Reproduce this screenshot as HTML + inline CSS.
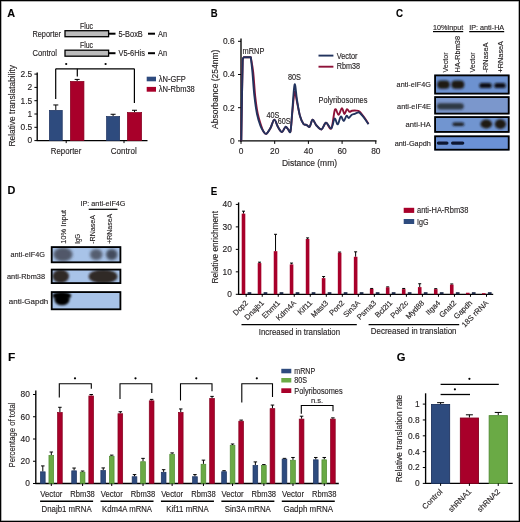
<!DOCTYPE html>
<html><head><meta charset="utf-8"><style>
html,body{margin:0;padding:0;background:#fff;}
#fig{position:relative;width:520px;height:522px;overflow:hidden;background:#fff;}
#fig svg.main{position:absolute;left:0;top:0;will-change:transform;}
#frame{position:absolute;left:0;top:0;width:518px;height:520px;border:1px solid #000;box-shadow:inset 0 0 0 0.5px rgba(0,0,0,0.6);}
text{font-family:"Liberation Sans", sans-serif;stroke:#231f20;stroke-width:0.14px;}
</style></head><body><div id="fig">
<svg class="main" width="520" height="522" viewBox="0 0 520 522" fill="#231f20" font-family='"Liberation Sans", sans-serif'>
<text x="7.34" y="16.99" font-size="11.6" textLength="7.84" lengthAdjust="spacingAndGlyphs" font-weight="bold" fill="#000">A</text>
<text x="210.77" y="16.97" font-size="11.6" textLength="6.85" lengthAdjust="spacingAndGlyphs" font-weight="bold" fill="#000">B</text>
<text x="396.00" y="16.99" font-size="11.6" textLength="7.07" lengthAdjust="spacingAndGlyphs" font-weight="bold" fill="#000">C</text>
<text x="7.48" y="194.44" font-size="11.6" textLength="7.87" lengthAdjust="spacingAndGlyphs" font-weight="bold" fill="#000">D</text>
<text x="210.75" y="194.64" font-size="11.6" textLength="6.53" lengthAdjust="spacingAndGlyphs" font-weight="bold" fill="#000">E</text>
<text x="8.01" y="361.44" font-size="11.6" textLength="7.32" lengthAdjust="spacingAndGlyphs" font-weight="bold" fill="#000">F</text>
<text x="396.74" y="361.44" font-size="11.6" textLength="8.76" lengthAdjust="spacingAndGlyphs" font-weight="bold" fill="#000">G</text>
<text x="32.50" y="36.82" font-size="8.2" textLength="28.50" lengthAdjust="spacingAndGlyphs">Reporter</text>
<text x="32.50" y="55.82" font-size="8.2" textLength="24.50" lengthAdjust="spacingAndGlyphs">Control</text>
<text x="80.00" y="29.02" font-size="8.2" textLength="13.00" lengthAdjust="spacingAndGlyphs">Fluc</text>
<rect x="65.00" y="30.70" width="43.60" height="6.00" fill="#bcbcbc" stroke="#000" stroke-width="1.3"/>
<line x1="108.50" y1="33.70" x2="115.50" y2="33.70" stroke="#000" stroke-width="2.0"/>
<text x="118.50" y="36.52" font-size="8.2" textLength="24.30" lengthAdjust="spacingAndGlyphs">5-BoxB</text>
<line x1="148.00" y1="33.70" x2="155.00" y2="33.70" stroke="#000" stroke-width="2.0"/>
<text x="158.00" y="36.52" font-size="8.2" textLength="9.00" lengthAdjust="spacingAndGlyphs">An</text>
<text x="80.00" y="47.62" font-size="8.2" textLength="13.00" lengthAdjust="spacingAndGlyphs">Fluc</text>
<rect x="65.00" y="50.20" width="43.60" height="6.00" fill="#bcbcbc" stroke="#000" stroke-width="1.3"/>
<line x1="108.50" y1="53.20" x2="115.50" y2="53.20" stroke="#000" stroke-width="2.0"/>
<text x="118.50" y="56.02" font-size="8.2" textLength="26.50" lengthAdjust="spacingAndGlyphs">V5-6His</text>
<line x1="148.00" y1="53.20" x2="155.00" y2="53.20" stroke="#000" stroke-width="2.0"/>
<text x="158.00" y="56.02" font-size="8.2" textLength="9.00" lengthAdjust="spacingAndGlyphs">An</text>
<line x1="37.20" y1="72.60" x2="37.20" y2="141.10" stroke="#000" stroke-width="1.35"/>
<line x1="36.70" y1="140.60" x2="147.50" y2="140.60" stroke="#000" stroke-width="1.35"/>
<line x1="34.40" y1="140.60" x2="37.20" y2="140.60" stroke="#000" stroke-width="1"/>
<text x="32.20" y="143.49" font-size="8.4" text-anchor="end">0</text>
<line x1="34.40" y1="127.30" x2="37.20" y2="127.30" stroke="#000" stroke-width="1"/>
<text x="32.20" y="130.19" font-size="8.4" text-anchor="end">0.5</text>
<line x1="34.40" y1="114.00" x2="37.20" y2="114.00" stroke="#000" stroke-width="1"/>
<text x="32.20" y="116.89" font-size="8.4" text-anchor="end">1</text>
<line x1="34.40" y1="100.70" x2="37.20" y2="100.70" stroke="#000" stroke-width="1"/>
<text x="32.20" y="103.59" font-size="8.4" text-anchor="end">1.5</text>
<line x1="34.40" y1="87.40" x2="37.20" y2="87.40" stroke="#000" stroke-width="1"/>
<text x="32.20" y="90.29" font-size="8.4" text-anchor="end">2</text>
<line x1="34.40" y1="74.10" x2="37.20" y2="74.10" stroke="#000" stroke-width="1"/>
<text x="32.20" y="76.99" font-size="8.4" text-anchor="end">2.5</text>
<line x1="66.20" y1="140.60" x2="66.20" y2="143.10" stroke="#000" stroke-width="1"/>
<line x1="124.00" y1="140.60" x2="124.00" y2="143.10" stroke="#000" stroke-width="1"/>
<line x1="55.80" y1="110.01" x2="55.80" y2="104.96" stroke="#000" stroke-width="1"/>
<line x1="53.30" y1="104.96" x2="58.30" y2="104.96" stroke="#000" stroke-width="1"/>
<rect x="49.35" y="110.36" width="12.90" height="30.24" fill="#2e4b7e" stroke="#1d3360" stroke-width="0.7"/>
<line x1="77.15" y1="81.02" x2="77.15" y2="79.42" stroke="#000" stroke-width="1"/>
<line x1="74.65" y1="79.42" x2="79.65" y2="79.42" stroke="#000" stroke-width="1"/>
<rect x="70.35" y="81.37" width="13.60" height="59.23" fill="#a8002a" stroke="#85001f" stroke-width="0.7"/>
<line x1="113.10" y1="116.13" x2="113.10" y2="114.27" stroke="#000" stroke-width="1"/>
<line x1="110.60" y1="114.27" x2="115.60" y2="114.27" stroke="#000" stroke-width="1"/>
<rect x="106.55" y="116.48" width="13.10" height="24.12" fill="#2e4b7e" stroke="#1d3360" stroke-width="0.7"/>
<line x1="134.50" y1="112.14" x2="134.50" y2="110.28" stroke="#000" stroke-width="1"/>
<line x1="132.00" y1="110.28" x2="137.00" y2="110.28" stroke="#000" stroke-width="1"/>
<rect x="127.35" y="112.49" width="14.30" height="28.11" fill="#a8002a" stroke="#85001f" stroke-width="0.7"/>
<line x1="55.70" y1="68.80" x2="134.40" y2="68.80" stroke="#000" stroke-width="1.2"/>
<line x1="55.70" y1="68.80" x2="55.70" y2="99.00" stroke="#000" stroke-width="1.2"/>
<line x1="77.30" y1="68.80" x2="77.30" y2="76.40" stroke="#000" stroke-width="1.2"/>
<line x1="134.40" y1="68.80" x2="134.40" y2="103.00" stroke="#000" stroke-width="1.2"/>
<circle cx="66.20" cy="64.00" r="1.1" fill="#000"/>
<circle cx="105.60" cy="64.00" r="1.1" fill="#000"/>
<rect x="146.70" y="76.70" width="9.30" height="4.60" fill="#2e4b7e"/>
<rect x="146.70" y="86.90" width="9.30" height="4.80" fill="#a8002a"/>
<text x="158.80" y="81.82" font-size="8.2" textLength="27.00" lengthAdjust="spacingAndGlyphs">λN-GFP</text>
<text x="158.80" y="92.12" font-size="8.2" textLength="36.00" lengthAdjust="spacingAndGlyphs">λN-Rbm38</text>
<text x="50.80" y="154.02" font-size="8.2" textLength="30.50" lengthAdjust="spacingAndGlyphs">Reporter</text>
<text x="110.80" y="154.02" font-size="8.2" textLength="25.90" lengthAdjust="spacingAndGlyphs">Control</text>
<text transform="translate(11.80,105.80) rotate(-90)" x="0" y="2.96" font-size="8.6" text-anchor="middle" textLength="81.50" lengthAdjust="spacingAndGlyphs">Relative translatability</text>
<line x1="241.00" y1="38.50" x2="241.00" y2="141.40" stroke="#000" stroke-width="1.35"/>
<line x1="240.50" y1="140.90" x2="376.50" y2="140.90" stroke="#000" stroke-width="1.35"/>
<line x1="238.00" y1="140.90" x2="241.00" y2="140.90" stroke="#000" stroke-width="1"/>
<text x="234.60" y="143.79" font-size="8.4" text-anchor="end">0</text>
<line x1="238.00" y1="107.70" x2="241.00" y2="107.70" stroke="#000" stroke-width="1"/>
<text x="234.60" y="110.59" font-size="8.4" text-anchor="end">0.2</text>
<line x1="238.00" y1="74.50" x2="241.00" y2="74.50" stroke="#000" stroke-width="1"/>
<text x="234.60" y="77.39" font-size="8.4" text-anchor="end">0.4</text>
<line x1="238.00" y1="41.30" x2="241.00" y2="41.30" stroke="#000" stroke-width="1"/>
<text x="234.60" y="44.19" font-size="8.4" text-anchor="end">0.6</text>
<line x1="241.00" y1="140.90" x2="241.00" y2="143.90" stroke="#000" stroke-width="1"/>
<text x="241.00" y="154.29" font-size="8.4" text-anchor="middle">0</text>
<line x1="274.70" y1="140.90" x2="274.70" y2="143.90" stroke="#000" stroke-width="1"/>
<text x="274.70" y="154.29" font-size="8.4" text-anchor="middle">20</text>
<line x1="308.40" y1="140.90" x2="308.40" y2="143.90" stroke="#000" stroke-width="1"/>
<text x="308.40" y="154.29" font-size="8.4" text-anchor="middle">40</text>
<line x1="342.10" y1="140.90" x2="342.10" y2="143.90" stroke="#000" stroke-width="1"/>
<text x="342.10" y="154.29" font-size="8.4" text-anchor="middle">60</text>
<line x1="375.80" y1="140.90" x2="375.80" y2="143.90" stroke="#000" stroke-width="1"/>
<text x="375.80" y="154.29" font-size="8.4" text-anchor="middle">80</text>
<text x="282.00" y="166.36" font-size="8.3" textLength="55.00" lengthAdjust="spacingAndGlyphs">Distance (mm)</text>
<text transform="translate(215.30,89.30) rotate(-90)" x="0" y="2.96" font-size="8.6" text-anchor="middle" textLength="79.40" lengthAdjust="spacingAndGlyphs">Absorbance (254nm)</text>
<path d="M241.3,140.6 L241.9,100 L242.7,60 Q243.1,57.2 244,57.2 L250,57.2 L250.80,57.20 C251.20,59.67 252.47,65.53 253.20,72.00 C253.93,78.47 254.43,89.00 255.20,96.00 C255.97,103.00 256.78,109.00 257.80,114.00 C258.82,119.00 260.35,123.08 261.30,126.00 C262.25,128.92 262.67,130.20 263.50,131.50 C264.33,132.80 265.13,134.38 266.30,133.80 C267.47,133.22 269.17,130.37 270.50,128.00 C271.83,125.63 273.05,119.77 274.30,119.60 C275.55,119.43 276.72,124.93 278.00,127.00 C279.28,129.07 280.75,132.03 282.00,132.00 C283.25,131.97 284.47,127.22 285.50,126.80 C286.53,126.38 287.37,128.77 288.20,129.50 C289.03,130.23 289.83,133.78 290.50,131.20 C291.17,128.62 291.52,120.53 292.20,114.00 C292.88,107.47 293.80,94.00 294.60,92.00 C295.40,90.00 296.10,98.00 297.00,102.00 C297.90,106.00 298.92,112.33 300.00,116.00 C301.08,119.67 302.42,122.53 303.50,124.00 C304.58,125.47 305.48,124.33 306.50,124.80 C307.52,125.27 308.58,127.63 309.60,126.80 C310.62,125.97 311.45,120.02 312.60,119.80 C313.75,119.58 315.02,123.90 316.50,125.50 C317.98,127.10 319.92,129.85 321.50,129.40 C323.08,128.95 324.37,122.97 326.00,122.80 C327.63,122.63 329.80,130.62 331.30,128.40 C332.80,126.18 333.80,111.77 335.00,109.50 C336.20,107.23 337.35,115.02 338.50,114.80 C339.65,114.58 340.92,108.33 341.90,108.20 C342.88,108.07 343.55,113.83 344.40,114.00 C345.25,114.17 346.15,109.57 347.00,109.20 C347.85,108.83 348.67,111.53 349.50,111.80 C350.33,112.07 350.88,111.00 352.00,110.80 C353.12,110.60 354.97,110.48 356.20,110.60 C357.43,110.72 358.10,110.43 359.40,111.50 C360.70,112.57 362.48,114.95 364.00,117.00 C365.52,119.05 367.75,122.67 368.50,123.80" fill="none" stroke="#8e1238" stroke-width="1.9" stroke-linejoin="round"/>
<path d="M241.3,140.6 L241.9,100 L242.7,60 Q243.1,57.2 244,57.2 L250,57.2 L250.80,57.20 C251.07,59.67 251.80,65.53 252.40,72.00 C253.00,78.47 253.63,89.00 254.40,96.00 C255.17,103.00 255.98,109.00 257.00,114.00 C258.02,119.00 259.42,123.08 260.50,126.00 C261.58,128.92 262.53,130.20 263.50,131.50 C264.47,132.80 265.13,134.38 266.30,133.80 C267.47,133.22 269.17,130.37 270.50,128.00 C271.83,125.63 273.05,119.77 274.30,119.60 C275.55,119.43 276.72,124.93 278.00,127.00 C279.28,129.07 280.75,132.03 282.00,132.00 C283.25,131.97 284.47,127.22 285.50,126.80 C286.53,126.38 287.37,128.77 288.20,129.50 C289.03,130.23 289.83,134.12 290.50,131.20 C291.17,128.28 291.52,119.78 292.20,112.00 C292.88,104.22 293.80,86.50 294.60,84.50 C295.40,82.50 296.10,94.75 297.00,100.00 C297.90,105.25 298.92,112.00 300.00,116.00 C301.08,120.00 302.42,122.53 303.50,124.00 C304.58,125.47 305.48,124.33 306.50,124.80 C307.52,125.27 308.58,127.63 309.60,126.80 C310.62,125.97 311.45,120.02 312.60,119.80 C313.75,119.58 315.02,123.90 316.50,125.50 C317.98,127.10 319.92,129.85 321.50,129.40 C323.08,128.95 324.37,122.97 326.00,122.80 C327.63,122.63 329.87,129.12 331.30,128.40 C332.73,127.68 333.53,119.17 334.60,118.50 C335.67,117.83 336.67,124.73 337.70,124.40 C338.73,124.07 339.78,117.07 340.80,116.50 C341.82,115.93 342.85,121.12 343.80,121.00 C344.75,120.88 345.67,116.30 346.50,115.80 C347.33,115.30 347.97,118.13 348.80,118.00 C349.63,117.87 350.53,115.70 351.50,115.00 C352.47,114.30 353.57,114.18 354.60,113.80 C355.63,113.42 356.90,112.93 357.70,112.70 C358.50,112.47 358.38,111.60 359.40,112.40 C360.42,113.20 362.28,115.53 363.80,117.50 C365.32,119.47 367.72,123.08 368.50,124.20" fill="none" stroke="#22335e" stroke-width="1.9" stroke-linejoin="round"/>
<line x1="318.50" y1="55.60" x2="333.40" y2="55.60" stroke="#22335e" stroke-width="1.9"/>
<line x1="318.50" y1="66.70" x2="333.40" y2="66.70" stroke="#8e1238" stroke-width="1.9"/>
<text x="336.70" y="58.52" font-size="8.2" textLength="20.80" lengthAdjust="spacingAndGlyphs">Vector</text>
<text x="336.70" y="69.42" font-size="8.2" textLength="23.30" lengthAdjust="spacingAndGlyphs">Rbm38</text>
<text x="242.60" y="54.22" font-size="8.2" textLength="21.80" lengthAdjust="spacingAndGlyphs">mRNP</text>
<text x="266.50" y="117.52" font-size="8.2" textLength="13.00" lengthAdjust="spacingAndGlyphs">40S</text>
<text x="277.80" y="123.62" font-size="8.2" textLength="12.90" lengthAdjust="spacingAndGlyphs">60S</text>
<text x="288.00" y="80.02" font-size="8.2" textLength="13.00" lengthAdjust="spacingAndGlyphs">80S</text>
<text x="318.50" y="102.52" font-size="8.2" textLength="49.00" lengthAdjust="spacingAndGlyphs">Polyribosomes</text>
<text x="433.00" y="29.72" font-size="7.9" textLength="30.20" lengthAdjust="spacingAndGlyphs">10%Input</text>
<line x1="433.00" y1="31.60" x2="463.20" y2="31.60" stroke="#000" stroke-width="1.2"/>
<text x="469.20" y="29.72" font-size="7.9" textLength="35.00" lengthAdjust="spacingAndGlyphs">IP: anti-HA</text>
<line x1="469.20" y1="31.60" x2="504.20" y2="31.60" stroke="#000" stroke-width="1.2"/>
<text transform="translate(444.80,72.50) rotate(-90)" x="0" y="2.72" font-size="7.9" text-anchor="start" textLength="20.00" lengthAdjust="spacingAndGlyphs">Vector</text>
<text transform="translate(457.60,72.50) rotate(-90)" x="0" y="2.72" font-size="7.9" text-anchor="start" textLength="36.50" lengthAdjust="spacingAndGlyphs">HA-Rbm38</text>
<text transform="translate(471.80,72.50) rotate(-90)" x="0" y="2.72" font-size="7.9" text-anchor="start" textLength="20.00" lengthAdjust="spacingAndGlyphs">Vector</text>
<text transform="translate(485.60,72.50) rotate(-90)" x="0" y="2.72" font-size="7.9" text-anchor="start" textLength="30.00" lengthAdjust="spacingAndGlyphs">-RNaseA</text>
<text transform="translate(500.60,72.50) rotate(-90)" x="0" y="2.72" font-size="7.9" text-anchor="start" textLength="31.50" lengthAdjust="spacingAndGlyphs">+RNaseA</text>
<defs>
<filter id="blur0" x="-50%" y="-50%" width="200%" height="200%"><feGaussianBlur stdDeviation="0.7"/></filter>
<filter id="blur1" x="-50%" y="-50%" width="200%" height="200%"><feGaussianBlur stdDeviation="1.1"/></filter>
<filter id="blur2" x="-50%" y="-50%" width="200%" height="200%"><feGaussianBlur stdDeviation="1.6"/></filter>
</defs>
<filter id="blurA" x="-50%" y="-50%" width="200%" height="200%"><feGaussianBlur stdDeviation="0.9"/></filter>
<svg x="434.20" y="74.50" width="75.40" height="20.00" overflow="hidden">
<rect x="0" y="0" width="75.40" height="20.00" fill="#6d92d0"/>
<rect x="3.00" y="6.10" width="12.60" height="8.20" rx="4.10" fill="#1c1410" opacity="0.97" filter="url(#blurA)"/>
<rect x="17.10" y="6.10" width="13.00" height="8.20" rx="4.10" fill="#1c1410" opacity="0.97" filter="url(#blurA)"/>
<rect x="45.10" y="8.40" width="12.50" height="5.20" rx="2.60" fill="#0e0e12" opacity="1.0" filter="url(#blurA)"/>
<rect x="60.00" y="8.40" width="11.60" height="5.20" rx="2.60" fill="#0e0e12" opacity="1.0" filter="url(#blurA)"/>
</svg>
<rect x="435.10" y="75.40" width="73.60" height="18.20" fill="none" stroke="#000" stroke-width="1.8"/>
<svg x="434.20" y="96.20" width="75.40" height="18.30" overflow="hidden">
<rect x="0" y="0" width="75.40" height="18.30" fill="#7b97cc"/>
<rect x="2.80" y="7.00" width="26.80" height="6.20" rx="3.10" fill="#1e2220" opacity="0.8" filter="url(#blur1)"/>
</svg>
<rect x="435.10" y="97.10" width="73.60" height="16.50" fill="none" stroke="#000" stroke-width="1.8"/>
<svg x="434.20" y="116.20" width="75.40" height="16.60" overflow="hidden">
<rect x="0" y="0" width="75.40" height="16.60" fill="#7195d0"/>
<rect x="18.30" y="6.20" width="11.70" height="3.60" rx="1.80" fill="#141418" opacity="0.95" filter="url(#blurA)"/>
<ellipse cx="52.10" cy="7.80" rx="5.90" ry="4.40" fill="#1c1410" opacity="0.97" filter="url(#blurA)"/>
<ellipse cx="66.20" cy="7.95" rx="5.60" ry="4.85" fill="#1c1410" opacity="0.97" filter="url(#blurA)"/>
</svg>
<rect x="435.10" y="117.10" width="73.60" height="14.80" fill="none" stroke="#000" stroke-width="1.8"/>
<svg x="434.20" y="135.40" width="75.40" height="15.20" overflow="hidden">
<rect x="0" y="0" width="75.40" height="15.20" fill="#6b91d6"/>
<rect x="2.60" y="6.10" width="11.70" height="3.20" rx="1.60" fill="#101830" opacity="1.0" filter="url(#blur0)"/>
<rect x="16.80" y="6.10" width="13.30" height="3.20" rx="1.60" fill="#101830" opacity="1.0" filter="url(#blur0)"/>
</svg>
<rect x="435.10" y="136.30" width="73.60" height="13.40" fill="none" stroke="#000" stroke-width="1.8"/>
<text x="396.60" y="87.22" font-size="7.9" textLength="34.30" lengthAdjust="spacingAndGlyphs">anti-eIF4G</text>
<text x="397.10" y="108.92" font-size="7.9" textLength="33.80" lengthAdjust="spacingAndGlyphs">anti-eIF4E</text>
<text x="405.60" y="126.52" font-size="7.9" textLength="25.30" lengthAdjust="spacingAndGlyphs">anti-HA</text>
<text x="394.70" y="145.72" font-size="7.9" textLength="36.20" lengthAdjust="spacingAndGlyphs">anti-Gapdh</text>
<text x="80.50" y="206.12" font-size="7.9" textLength="45.00" lengthAdjust="spacingAndGlyphs">IP: anti-eIF4G</text>
<line x1="88.70" y1="209.30" x2="117.50" y2="209.30" stroke="#000" stroke-width="1.2"/>
<text transform="translate(62.90,243.80) rotate(-90)" x="0" y="2.72" font-size="7.9" text-anchor="start" textLength="33.80" lengthAdjust="spacingAndGlyphs">10% Input</text>
<text transform="translate(77.10,243.80) rotate(-90)" x="0" y="2.72" font-size="7.9" text-anchor="start" textLength="10.00" lengthAdjust="spacingAndGlyphs">IgG</text>
<text transform="translate(92.70,243.80) rotate(-90)" x="0" y="2.72" font-size="7.9" text-anchor="start" textLength="28.80" lengthAdjust="spacingAndGlyphs">-RNaseA</text>
<text transform="translate(109.50,243.80) rotate(-90)" x="0" y="2.72" font-size="7.9" text-anchor="start" textLength="30.00" lengthAdjust="spacingAndGlyphs">+RNaseA</text>
<svg x="50.80" y="246.20" width="70.50" height="17.00" overflow="hidden">
<rect x="0" y="0" width="70.50" height="17.00" fill="#a8c3e8"/>
<ellipse cx="12.20" cy="8.30" rx="9.50" ry="7.00" fill="#3a3e4a" opacity="0.8" filter="url(#blur2)"/>
<ellipse cx="45.45" cy="8.30" rx="6.25" ry="5.50" fill="#3a3e4a" opacity="0.75" filter="url(#blur2)"/>
<ellipse cx="60.95" cy="8.30" rx="5.75" ry="5.50" fill="#2a2e3a" opacity="0.8" filter="url(#blur2)"/>
</svg>
<rect x="51.70" y="247.10" width="68.70" height="15.20" fill="none" stroke="#000" stroke-width="1.8"/>
<svg x="50.80" y="268.70" width="70.50" height="15.30" overflow="hidden">
<rect x="0" y="0" width="70.50" height="15.30" fill="#a8c3e8"/>
<ellipse cx="9.95" cy="7.55" rx="8.25" ry="6.75" fill="#2a221e" opacity="0.95" filter="url(#blur1)"/>
<ellipse cx="52.30" cy="7.80" rx="14.40" ry="7.00" fill="#2a221e" opacity="0.95" filter="url(#blur1)"/>
</svg>
<rect x="51.70" y="269.60" width="68.70" height="13.50" fill="none" stroke="#000" stroke-width="1.8"/>
<svg x="50.80" y="291.20" width="70.50" height="19.00" overflow="hidden">
<rect x="0" y="0" width="70.50" height="19.00" fill="#a8c3e8"/>
<ellipse cx="11.00" cy="4.55" rx="9.50" ry="3.75" fill="#050505" opacity="1.0" filter="url(#blurA)"/>
<ellipse cx="11.20" cy="8.65" rx="7.50" ry="5.35" fill="#050505" opacity="1.0" filter="url(#blurA)"/>
</svg>
<rect x="51.70" y="292.10" width="68.70" height="17.20" fill="none" stroke="#000" stroke-width="1.8"/>
<text x="10.50" y="257.22" font-size="7.9" textLength="34.50" lengthAdjust="spacingAndGlyphs">anti-eIF4G</text>
<text x="7.00" y="279.02" font-size="7.9" textLength="38.00" lengthAdjust="spacingAndGlyphs">anti-Rbm38</text>
<text x="8.80" y="304.02" font-size="7.9" textLength="39.50" lengthAdjust="spacingAndGlyphs">anti-Gapdh</text>
<line x1="238.60" y1="202.42" x2="238.60" y2="294.80" stroke="#000" stroke-width="1.35"/>
<line x1="238.10" y1="294.30" x2="493.20" y2="294.30" stroke="#000" stroke-width="1.35"/>
<line x1="235.80" y1="294.30" x2="238.60" y2="294.30" stroke="#000" stroke-width="1"/>
<text x="231.90" y="297.19" font-size="8.4" text-anchor="end">0</text>
<line x1="235.80" y1="271.83" x2="238.60" y2="271.83" stroke="#000" stroke-width="1"/>
<text x="231.90" y="274.72" font-size="8.4" text-anchor="end">10</text>
<line x1="235.80" y1="249.36" x2="238.60" y2="249.36" stroke="#000" stroke-width="1"/>
<text x="231.90" y="252.25" font-size="8.4" text-anchor="end">20</text>
<line x1="235.80" y1="226.89" x2="238.60" y2="226.89" stroke="#000" stroke-width="1"/>
<text x="231.90" y="229.78" font-size="8.4" text-anchor="end">30</text>
<line x1="235.80" y1="204.42" x2="238.60" y2="204.42" stroke="#000" stroke-width="1"/>
<text x="231.90" y="207.31" font-size="8.4" text-anchor="end">40</text>
<line x1="243.50" y1="213.63" x2="243.50" y2="211.16" stroke="#000" stroke-width="1"/>
<line x1="242.00" y1="211.16" x2="245.00" y2="211.16" stroke="#000" stroke-width="1"/>
<rect x="241.70" y="213.63" width="3.60" height="80.67" fill="#a8002a"/>
<rect x="247.60" y="292.17" width="3.70" height="2.13" fill="#1f2a48"/>
<line x1="246.20" y1="294.30" x2="246.20" y2="296.80" stroke="#000" stroke-width="1"/>
<text transform="translate(246.70,301.60) rotate(-45)" x="0" y="2.61" font-size="7.6" text-anchor="end">Dcp2</text>
<line x1="259.52" y1="263.07" x2="259.52" y2="262.17" stroke="#000" stroke-width="1"/>
<line x1="258.02" y1="262.17" x2="261.02" y2="262.17" stroke="#000" stroke-width="1"/>
<rect x="257.72" y="263.07" width="3.60" height="31.23" fill="#a8002a"/>
<rect x="263.62" y="292.17" width="3.70" height="2.13" fill="#1f2a48"/>
<line x1="262.22" y1="294.30" x2="262.22" y2="296.80" stroke="#000" stroke-width="1"/>
<text transform="translate(262.72,301.60) rotate(-45)" x="0" y="2.61" font-size="7.6" text-anchor="end">Dnajb1</text>
<line x1="275.54" y1="251.16" x2="275.54" y2="234.31" stroke="#000" stroke-width="1"/>
<line x1="274.04" y1="234.31" x2="277.04" y2="234.31" stroke="#000" stroke-width="1"/>
<rect x="273.74" y="251.16" width="3.60" height="43.14" fill="#a8002a"/>
<rect x="279.64" y="292.17" width="3.70" height="2.13" fill="#1f2a48"/>
<line x1="278.24" y1="294.30" x2="278.24" y2="296.80" stroke="#000" stroke-width="1"/>
<text transform="translate(278.74,301.60) rotate(-45)" x="0" y="2.61" font-size="7.6" text-anchor="end">Ehmt1</text>
<line x1="291.56" y1="264.41" x2="291.56" y2="263.07" stroke="#000" stroke-width="1"/>
<line x1="290.06" y1="263.07" x2="293.06" y2="263.07" stroke="#000" stroke-width="1"/>
<rect x="289.76" y="264.41" width="3.60" height="29.89" fill="#a8002a"/>
<rect x="295.66" y="292.17" width="3.70" height="2.13" fill="#1f2a48"/>
<line x1="294.26" y1="294.30" x2="294.26" y2="296.80" stroke="#000" stroke-width="1"/>
<text transform="translate(294.76,301.60) rotate(-45)" x="0" y="2.61" font-size="7.6" text-anchor="end">Kdm4A</text>
<line x1="307.58" y1="239.02" x2="307.58" y2="237.90" stroke="#000" stroke-width="1"/>
<line x1="306.08" y1="237.90" x2="309.08" y2="237.90" stroke="#000" stroke-width="1"/>
<rect x="305.78" y="239.02" width="3.60" height="55.28" fill="#a8002a"/>
<rect x="311.68" y="292.17" width="3.70" height="2.13" fill="#1f2a48"/>
<line x1="310.28" y1="294.30" x2="310.28" y2="296.80" stroke="#000" stroke-width="1"/>
<text transform="translate(310.78,301.60) rotate(-45)" x="0" y="2.61" font-size="7.6" text-anchor="end">Kif11</text>
<line x1="323.60" y1="278.12" x2="323.60" y2="276.55" stroke="#000" stroke-width="1"/>
<line x1="322.10" y1="276.55" x2="325.10" y2="276.55" stroke="#000" stroke-width="1"/>
<rect x="321.80" y="278.12" width="3.60" height="16.18" fill="#a8002a"/>
<rect x="327.70" y="292.17" width="3.70" height="2.13" fill="#1f2a48"/>
<line x1="326.30" y1="294.30" x2="326.30" y2="296.80" stroke="#000" stroke-width="1"/>
<text transform="translate(326.80,301.60) rotate(-45)" x="0" y="2.61" font-size="7.6" text-anchor="end">Mast3</text>
<line x1="339.62" y1="252.73" x2="339.62" y2="252.06" stroke="#000" stroke-width="1"/>
<line x1="338.12" y1="252.06" x2="341.12" y2="252.06" stroke="#000" stroke-width="1"/>
<rect x="337.82" y="252.73" width="3.60" height="41.57" fill="#a8002a"/>
<rect x="343.72" y="292.17" width="3.70" height="2.13" fill="#1f2a48"/>
<line x1="342.32" y1="294.30" x2="342.32" y2="296.80" stroke="#000" stroke-width="1"/>
<text transform="translate(342.82,301.60) rotate(-45)" x="0" y="2.61" font-size="7.6" text-anchor="end">Pon2</text>
<line x1="355.64" y1="256.78" x2="355.64" y2="251.83" stroke="#000" stroke-width="1"/>
<line x1="354.14" y1="251.83" x2="357.14" y2="251.83" stroke="#000" stroke-width="1"/>
<rect x="353.84" y="256.78" width="3.60" height="37.52" fill="#a8002a"/>
<rect x="359.74" y="292.17" width="3.70" height="2.13" fill="#1f2a48"/>
<line x1="358.34" y1="294.30" x2="358.34" y2="296.80" stroke="#000" stroke-width="1"/>
<text transform="translate(358.84,301.60) rotate(-45)" x="0" y="2.61" font-size="7.6" text-anchor="end">Sin3A</text>
<line x1="371.66" y1="288.91" x2="371.66" y2="288.46" stroke="#000" stroke-width="1"/>
<line x1="370.16" y1="288.46" x2="373.16" y2="288.46" stroke="#000" stroke-width="1"/>
<rect x="369.86" y="288.91" width="3.60" height="5.39" fill="#a8002a"/>
<rect x="375.76" y="292.17" width="3.70" height="2.13" fill="#1f2a48"/>
<line x1="374.36" y1="294.30" x2="374.36" y2="296.80" stroke="#000" stroke-width="1"/>
<text transform="translate(374.86,301.60) rotate(-45)" x="0" y="2.61" font-size="7.6" text-anchor="end">Psma3</text>
<line x1="387.68" y1="287.33" x2="387.68" y2="286.88" stroke="#000" stroke-width="1"/>
<line x1="386.18" y1="286.88" x2="389.18" y2="286.88" stroke="#000" stroke-width="1"/>
<rect x="385.88" y="287.33" width="3.60" height="6.97" fill="#a8002a"/>
<rect x="391.78" y="292.17" width="3.70" height="2.13" fill="#1f2a48"/>
<line x1="390.38" y1="294.30" x2="390.38" y2="296.80" stroke="#000" stroke-width="1"/>
<text transform="translate(390.88,301.60) rotate(-45)" x="0" y="2.61" font-size="7.6" text-anchor="end">Bcl2l1</text>
<line x1="403.70" y1="289.13" x2="403.70" y2="288.46" stroke="#000" stroke-width="1"/>
<line x1="402.20" y1="288.46" x2="405.20" y2="288.46" stroke="#000" stroke-width="1"/>
<rect x="401.90" y="289.13" width="3.60" height="5.17" fill="#a8002a"/>
<rect x="407.80" y="292.17" width="3.70" height="2.13" fill="#1f2a48"/>
<line x1="406.40" y1="294.30" x2="406.40" y2="296.80" stroke="#000" stroke-width="1"/>
<text transform="translate(406.90,301.60) rotate(-45)" x="0" y="2.61" font-size="7.6" text-anchor="end">Polr2c</text>
<line x1="419.72" y1="287.11" x2="419.72" y2="283.74" stroke="#000" stroke-width="1"/>
<line x1="418.22" y1="283.74" x2="421.22" y2="283.74" stroke="#000" stroke-width="1"/>
<rect x="417.92" y="287.11" width="3.60" height="7.19" fill="#a8002a"/>
<rect x="423.82" y="292.17" width="3.70" height="2.13" fill="#1f2a48"/>
<line x1="422.42" y1="294.30" x2="422.42" y2="296.80" stroke="#000" stroke-width="1"/>
<text transform="translate(422.92,301.60) rotate(-45)" x="0" y="2.61" font-size="7.6" text-anchor="end">Myd88</text>
<line x1="435.74" y1="289.13" x2="435.74" y2="288.68" stroke="#000" stroke-width="1"/>
<line x1="434.24" y1="288.68" x2="437.24" y2="288.68" stroke="#000" stroke-width="1"/>
<rect x="433.94" y="289.13" width="3.60" height="5.17" fill="#a8002a"/>
<rect x="439.84" y="292.17" width="3.70" height="2.13" fill="#1f2a48"/>
<line x1="438.44" y1="294.30" x2="438.44" y2="296.80" stroke="#000" stroke-width="1"/>
<text transform="translate(438.94,301.60) rotate(-45)" x="0" y="2.61" font-size="7.6" text-anchor="end">Itga4</text>
<line x1="451.76" y1="284.64" x2="451.76" y2="283.96" stroke="#000" stroke-width="1"/>
<line x1="450.26" y1="283.96" x2="453.26" y2="283.96" stroke="#000" stroke-width="1"/>
<rect x="449.96" y="284.64" width="3.60" height="9.66" fill="#a8002a"/>
<rect x="455.86" y="292.17" width="3.70" height="2.13" fill="#1f2a48"/>
<line x1="454.46" y1="294.30" x2="454.46" y2="296.80" stroke="#000" stroke-width="1"/>
<text transform="translate(454.96,301.60) rotate(-45)" x="0" y="2.61" font-size="7.6" text-anchor="end">Gnat2</text>
<rect x="465.98" y="292.73" width="3.60" height="1.57" fill="#a8002a"/>
<rect x="471.88" y="292.17" width="3.70" height="2.13" fill="#1f2a48"/>
<line x1="470.48" y1="294.30" x2="470.48" y2="296.80" stroke="#000" stroke-width="1"/>
<text transform="translate(470.98,301.60) rotate(-45)" x="0" y="2.61" font-size="7.6" text-anchor="end">Gapdh</text>
<rect x="482.00" y="293.18" width="3.60" height="1.12" fill="#a8002a"/>
<rect x="487.90" y="292.17" width="3.70" height="2.13" fill="#1f2a48"/>
<line x1="486.50" y1="294.30" x2="486.50" y2="296.80" stroke="#000" stroke-width="1"/>
<text transform="translate(487.00,301.60) rotate(-45)" x="0" y="2.61" font-size="7.6" text-anchor="end">18S rRNA</text>
<rect x="403.70" y="207.80" width="10.50" height="5.10" fill="#a8002a"/>
<rect x="403.70" y="219.00" width="10.50" height="5.00" fill="#2e4b7e"/>
<text x="417.00" y="213.32" font-size="8.2" textLength="51.40" lengthAdjust="spacingAndGlyphs">anti-HA-Rbm38</text>
<text x="417.00" y="224.62" font-size="8.2" textLength="11.50" lengthAdjust="spacingAndGlyphs">IgG</text>
<line x1="241.50" y1="324.60" x2="356.80" y2="324.60" stroke="#000" stroke-width="1.4"/>
<line x1="368.60" y1="324.60" x2="459.20" y2="324.60" stroke="#000" stroke-width="1.4"/>
<text x="258.80" y="334.92" font-size="8.2" textLength="81.30" lengthAdjust="spacingAndGlyphs">Increased in translation</text>
<text x="370.80" y="333.62" font-size="8.2" textLength="85.70" lengthAdjust="spacingAndGlyphs">Decreased in translation</text>
<text transform="translate(214.80,247.30) rotate(-90)" x="0" y="2.96" font-size="8.6" text-anchor="middle" textLength="72.40" lengthAdjust="spacingAndGlyphs">Relative enrichment</text>
<line x1="35.80" y1="390.50" x2="35.80" y2="484.00" stroke="#000" stroke-width="1.35"/>
<line x1="35.30" y1="483.50" x2="338.80" y2="483.50" stroke="#000" stroke-width="1.35"/>
<line x1="33.00" y1="483.50" x2="35.80" y2="483.50" stroke="#000" stroke-width="1"/>
<text x="29.90" y="486.39" font-size="8.4" text-anchor="end">0</text>
<line x1="33.00" y1="461.25" x2="35.80" y2="461.25" stroke="#000" stroke-width="1"/>
<text x="29.90" y="464.14" font-size="8.4" text-anchor="end">20</text>
<line x1="33.00" y1="439.00" x2="35.80" y2="439.00" stroke="#000" stroke-width="1"/>
<text x="29.90" y="441.89" font-size="8.4" text-anchor="end">40</text>
<line x1="33.00" y1="416.75" x2="35.80" y2="416.75" stroke="#000" stroke-width="1"/>
<text x="29.90" y="419.64" font-size="8.4" text-anchor="end">60</text>
<line x1="33.00" y1="394.50" x2="35.80" y2="394.50" stroke="#000" stroke-width="1"/>
<text x="29.90" y="397.39" font-size="8.4" text-anchor="end">80</text>
<line x1="42.80" y1="471.49" x2="42.80" y2="465.92" stroke="#000" stroke-width="1"/>
<line x1="41.05" y1="465.92" x2="44.55" y2="465.92" stroke="#000" stroke-width="1"/>
<rect x="40.45" y="471.84" width="4.70" height="11.66" fill="#2e4b7e" stroke="#1d3360" stroke-width="0.7"/>
<line x1="51.30" y1="455.13" x2="51.30" y2="452.02" stroke="#000" stroke-width="1"/>
<line x1="49.55" y1="452.02" x2="53.05" y2="452.02" stroke="#000" stroke-width="1"/>
<rect x="48.95" y="455.48" width="4.70" height="28.02" fill="#6aaa45" stroke="#4f8a32" stroke-width="0.7"/>
<line x1="59.90" y1="412.08" x2="59.90" y2="407.29" stroke="#000" stroke-width="1"/>
<line x1="58.15" y1="407.29" x2="61.65" y2="407.29" stroke="#000" stroke-width="1"/>
<rect x="57.55" y="412.43" width="4.70" height="71.07" fill="#a8002a" stroke="#85001f" stroke-width="0.7"/>
<line x1="51.30" y1="483.50" x2="51.30" y2="486.00" stroke="#000" stroke-width="1"/>
<text x="51.30" y="497.12" font-size="8.2" text-anchor="middle" textLength="22.00" lengthAdjust="spacingAndGlyphs">Vector</text>
<line x1="74.10" y1="470.48" x2="74.10" y2="468.04" stroke="#000" stroke-width="1"/>
<line x1="72.35" y1="468.04" x2="75.85" y2="468.04" stroke="#000" stroke-width="1"/>
<rect x="71.75" y="470.83" width="4.70" height="12.67" fill="#2e4b7e" stroke="#1d3360" stroke-width="0.7"/>
<line x1="82.60" y1="471.82" x2="82.60" y2="471.04" stroke="#000" stroke-width="1"/>
<line x1="80.85" y1="471.04" x2="84.35" y2="471.04" stroke="#000" stroke-width="1"/>
<rect x="80.25" y="472.17" width="4.70" height="11.33" fill="#6aaa45" stroke="#4f8a32" stroke-width="0.7"/>
<line x1="91.20" y1="395.61" x2="91.20" y2="394.50" stroke="#000" stroke-width="1"/>
<line x1="89.45" y1="394.50" x2="92.95" y2="394.50" stroke="#000" stroke-width="1"/>
<rect x="88.85" y="395.96" width="4.70" height="87.54" fill="#a8002a" stroke="#85001f" stroke-width="0.7"/>
<line x1="82.60" y1="483.50" x2="82.60" y2="486.00" stroke="#000" stroke-width="1"/>
<text x="82.60" y="497.12" font-size="8.2" text-anchor="middle" textLength="24.50" lengthAdjust="spacingAndGlyphs">Rbm38</text>
<line x1="103.22" y1="470.15" x2="103.22" y2="467.93" stroke="#000" stroke-width="1"/>
<line x1="101.47" y1="467.93" x2="104.97" y2="467.93" stroke="#000" stroke-width="1"/>
<rect x="100.87" y="470.50" width="4.70" height="13.00" fill="#2e4b7e" stroke="#1d3360" stroke-width="0.7"/>
<line x1="111.72" y1="455.91" x2="111.72" y2="455.13" stroke="#000" stroke-width="1"/>
<line x1="109.97" y1="455.13" x2="113.47" y2="455.13" stroke="#000" stroke-width="1"/>
<rect x="109.37" y="456.26" width="4.70" height="27.24" fill="#6aaa45" stroke="#4f8a32" stroke-width="0.7"/>
<line x1="120.32" y1="413.41" x2="120.32" y2="411.74" stroke="#000" stroke-width="1"/>
<line x1="118.57" y1="411.74" x2="122.07" y2="411.74" stroke="#000" stroke-width="1"/>
<rect x="117.97" y="413.76" width="4.70" height="69.74" fill="#a8002a" stroke="#85001f" stroke-width="0.7"/>
<line x1="111.72" y1="483.50" x2="111.72" y2="486.00" stroke="#000" stroke-width="1"/>
<text x="111.72" y="497.12" font-size="8.2" text-anchor="middle" textLength="22.00" lengthAdjust="spacingAndGlyphs">Vector</text>
<line x1="134.52" y1="476.38" x2="134.52" y2="474.60" stroke="#000" stroke-width="1"/>
<line x1="132.77" y1="474.60" x2="136.27" y2="474.60" stroke="#000" stroke-width="1"/>
<rect x="132.17" y="476.73" width="4.70" height="6.77" fill="#2e4b7e" stroke="#1d3360" stroke-width="0.7"/>
<line x1="143.02" y1="461.36" x2="143.02" y2="458.36" stroke="#000" stroke-width="1"/>
<line x1="141.27" y1="458.36" x2="144.77" y2="458.36" stroke="#000" stroke-width="1"/>
<rect x="140.67" y="461.71" width="4.70" height="21.79" fill="#6aaa45" stroke="#4f8a32" stroke-width="0.7"/>
<line x1="151.62" y1="400.51" x2="151.62" y2="399.39" stroke="#000" stroke-width="1"/>
<line x1="149.87" y1="399.39" x2="153.37" y2="399.39" stroke="#000" stroke-width="1"/>
<rect x="149.27" y="400.86" width="4.70" height="82.64" fill="#a8002a" stroke="#85001f" stroke-width="0.7"/>
<line x1="143.02" y1="483.50" x2="143.02" y2="486.00" stroke="#000" stroke-width="1"/>
<text x="143.02" y="497.12" font-size="8.2" text-anchor="middle" textLength="24.50" lengthAdjust="spacingAndGlyphs">Rbm38</text>
<line x1="163.64" y1="471.93" x2="163.64" y2="469.70" stroke="#000" stroke-width="1"/>
<line x1="161.89" y1="469.70" x2="165.39" y2="469.70" stroke="#000" stroke-width="1"/>
<rect x="161.29" y="472.28" width="4.70" height="11.22" fill="#2e4b7e" stroke="#1d3360" stroke-width="0.7"/>
<line x1="172.14" y1="453.91" x2="172.14" y2="452.91" stroke="#000" stroke-width="1"/>
<line x1="170.39" y1="452.91" x2="173.89" y2="452.91" stroke="#000" stroke-width="1"/>
<rect x="169.79" y="454.26" width="4.70" height="29.24" fill="#6aaa45" stroke="#4f8a32" stroke-width="0.7"/>
<line x1="180.74" y1="412.08" x2="180.74" y2="408.96" stroke="#000" stroke-width="1"/>
<line x1="178.99" y1="408.96" x2="182.49" y2="408.96" stroke="#000" stroke-width="1"/>
<rect x="178.39" y="412.43" width="4.70" height="71.07" fill="#a8002a" stroke="#85001f" stroke-width="0.7"/>
<line x1="172.14" y1="483.50" x2="172.14" y2="486.00" stroke="#000" stroke-width="1"/>
<text x="172.14" y="497.12" font-size="8.2" text-anchor="middle" textLength="22.00" lengthAdjust="spacingAndGlyphs">Vector</text>
<line x1="194.94" y1="476.38" x2="194.94" y2="474.60" stroke="#000" stroke-width="1"/>
<line x1="193.19" y1="474.60" x2="196.69" y2="474.60" stroke="#000" stroke-width="1"/>
<rect x="192.59" y="476.73" width="4.70" height="6.77" fill="#2e4b7e" stroke="#1d3360" stroke-width="0.7"/>
<line x1="203.44" y1="463.92" x2="203.44" y2="460.14" stroke="#000" stroke-width="1"/>
<line x1="201.69" y1="460.14" x2="205.19" y2="460.14" stroke="#000" stroke-width="1"/>
<rect x="201.09" y="464.27" width="4.70" height="19.23" fill="#6aaa45" stroke="#4f8a32" stroke-width="0.7"/>
<line x1="212.04" y1="398.06" x2="212.04" y2="396.39" stroke="#000" stroke-width="1"/>
<line x1="210.29" y1="396.39" x2="213.79" y2="396.39" stroke="#000" stroke-width="1"/>
<rect x="209.69" y="398.41" width="4.70" height="85.09" fill="#a8002a" stroke="#85001f" stroke-width="0.7"/>
<line x1="203.44" y1="483.50" x2="203.44" y2="486.00" stroke="#000" stroke-width="1"/>
<text x="203.44" y="497.12" font-size="8.2" text-anchor="middle" textLength="24.50" lengthAdjust="spacingAndGlyphs">Rbm38</text>
<line x1="224.06" y1="471.37" x2="224.06" y2="470.71" stroke="#000" stroke-width="1"/>
<line x1="222.31" y1="470.71" x2="225.81" y2="470.71" stroke="#000" stroke-width="1"/>
<rect x="221.71" y="471.72" width="4.70" height="11.78" fill="#2e4b7e" stroke="#1d3360" stroke-width="0.7"/>
<line x1="232.56" y1="445.12" x2="232.56" y2="444.01" stroke="#000" stroke-width="1"/>
<line x1="230.81" y1="444.01" x2="234.31" y2="444.01" stroke="#000" stroke-width="1"/>
<rect x="230.21" y="445.47" width="4.70" height="38.03" fill="#6aaa45" stroke="#4f8a32" stroke-width="0.7"/>
<line x1="241.16" y1="420.87" x2="241.16" y2="420.09" stroke="#000" stroke-width="1"/>
<line x1="239.41" y1="420.09" x2="242.91" y2="420.09" stroke="#000" stroke-width="1"/>
<rect x="238.81" y="421.22" width="4.70" height="62.28" fill="#a8002a" stroke="#85001f" stroke-width="0.7"/>
<line x1="232.56" y1="483.50" x2="232.56" y2="486.00" stroke="#000" stroke-width="1"/>
<text x="232.56" y="497.12" font-size="8.2" text-anchor="middle" textLength="22.00" lengthAdjust="spacingAndGlyphs">Vector</text>
<line x1="255.36" y1="465.14" x2="255.36" y2="461.92" stroke="#000" stroke-width="1"/>
<line x1="253.61" y1="461.92" x2="257.11" y2="461.92" stroke="#000" stroke-width="1"/>
<rect x="253.01" y="465.49" width="4.70" height="18.01" fill="#2e4b7e" stroke="#1d3360" stroke-width="0.7"/>
<line x1="263.86" y1="465.14" x2="263.86" y2="464.59" stroke="#000" stroke-width="1"/>
<line x1="262.11" y1="464.59" x2="265.61" y2="464.59" stroke="#000" stroke-width="1"/>
<rect x="261.51" y="465.49" width="4.70" height="18.01" fill="#6aaa45" stroke="#4f8a32" stroke-width="0.7"/>
<line x1="272.46" y1="408.30" x2="272.46" y2="405.07" stroke="#000" stroke-width="1"/>
<line x1="270.71" y1="405.07" x2="274.21" y2="405.07" stroke="#000" stroke-width="1"/>
<rect x="270.11" y="408.65" width="4.70" height="74.85" fill="#a8002a" stroke="#85001f" stroke-width="0.7"/>
<line x1="263.86" y1="483.50" x2="263.86" y2="486.00" stroke="#000" stroke-width="1"/>
<text x="263.86" y="497.12" font-size="8.2" text-anchor="middle" textLength="24.50" lengthAdjust="spacingAndGlyphs">Rbm38</text>
<line x1="284.48" y1="458.80" x2="284.48" y2="458.36" stroke="#000" stroke-width="1"/>
<line x1="282.73" y1="458.36" x2="286.23" y2="458.36" stroke="#000" stroke-width="1"/>
<rect x="282.13" y="459.15" width="4.70" height="24.35" fill="#2e4b7e" stroke="#1d3360" stroke-width="0.7"/>
<line x1="292.98" y1="459.92" x2="292.98" y2="457.47" stroke="#000" stroke-width="1"/>
<line x1="291.23" y1="457.47" x2="294.73" y2="457.47" stroke="#000" stroke-width="1"/>
<rect x="290.63" y="460.27" width="4.70" height="23.23" fill="#6aaa45" stroke="#4f8a32" stroke-width="0.7"/>
<line x1="301.58" y1="418.75" x2="301.58" y2="416.19" stroke="#000" stroke-width="1"/>
<line x1="299.83" y1="416.19" x2="303.33" y2="416.19" stroke="#000" stroke-width="1"/>
<rect x="299.23" y="419.10" width="4.70" height="64.40" fill="#a8002a" stroke="#85001f" stroke-width="0.7"/>
<line x1="292.98" y1="483.50" x2="292.98" y2="486.00" stroke="#000" stroke-width="1"/>
<text x="292.98" y="497.12" font-size="8.2" text-anchor="middle" textLength="22.00" lengthAdjust="spacingAndGlyphs">Vector</text>
<line x1="315.78" y1="459.47" x2="315.78" y2="457.47" stroke="#000" stroke-width="1"/>
<line x1="314.03" y1="457.47" x2="317.53" y2="457.47" stroke="#000" stroke-width="1"/>
<rect x="313.43" y="459.82" width="4.70" height="23.68" fill="#2e4b7e" stroke="#1d3360" stroke-width="0.7"/>
<line x1="324.28" y1="459.47" x2="324.28" y2="457.47" stroke="#000" stroke-width="1"/>
<line x1="322.53" y1="457.47" x2="326.03" y2="457.47" stroke="#000" stroke-width="1"/>
<rect x="321.93" y="459.82" width="4.70" height="23.68" fill="#6aaa45" stroke="#4f8a32" stroke-width="0.7"/>
<line x1="332.88" y1="418.75" x2="332.88" y2="417.86" stroke="#000" stroke-width="1"/>
<line x1="331.13" y1="417.86" x2="334.63" y2="417.86" stroke="#000" stroke-width="1"/>
<rect x="330.53" y="419.10" width="4.70" height="64.40" fill="#a8002a" stroke="#85001f" stroke-width="0.7"/>
<line x1="324.28" y1="483.50" x2="324.28" y2="486.00" stroke="#000" stroke-width="1"/>
<text x="324.28" y="497.12" font-size="8.2" text-anchor="middle" textLength="24.50" lengthAdjust="spacingAndGlyphs">Rbm38</text>
<line x1="40.10" y1="501.30" x2="93.10" y2="501.30" stroke="#000" stroke-width="1.4"/>
<text x="66.60" y="512.02" font-size="8.2" text-anchor="middle" textLength="50.00" lengthAdjust="spacingAndGlyphs">Dnajb1 mRNA</text>
<line x1="100.52" y1="501.30" x2="153.52" y2="501.30" stroke="#000" stroke-width="1.4"/>
<text x="127.02" y="512.02" font-size="8.2" text-anchor="middle" textLength="50.00" lengthAdjust="spacingAndGlyphs">Kdm4A mRNA</text>
<line x1="160.94" y1="501.30" x2="213.94" y2="501.30" stroke="#000" stroke-width="1.4"/>
<text x="187.44" y="512.02" font-size="8.2" text-anchor="middle" textLength="42.50" lengthAdjust="spacingAndGlyphs">Kif11 mRNA</text>
<line x1="221.36" y1="501.30" x2="274.36" y2="501.30" stroke="#000" stroke-width="1.4"/>
<text x="247.86" y="512.02" font-size="8.2" text-anchor="middle" textLength="46.00" lengthAdjust="spacingAndGlyphs">Sin3A mRNA</text>
<line x1="281.78" y1="501.30" x2="334.78" y2="501.30" stroke="#000" stroke-width="1.4"/>
<text x="308.28" y="512.02" font-size="8.2" text-anchor="middle" textLength="49.50" lengthAdjust="spacingAndGlyphs">Gadph mRNA</text>
<polyline points="59.30,397.50 59.30,383.80 91.30,383.80 91.30,388.80" fill="none" stroke="#000" stroke-width="1.1"/>
<circle cx="75.00" cy="378.30" r="1.1" fill="#000"/>
<polyline points="120.00,399.00 120.00,383.80 151.80,383.80 151.80,393.00" fill="none" stroke="#000" stroke-width="1.1"/>
<circle cx="135.50" cy="378.30" r="1.1" fill="#000"/>
<polyline points="180.50,400.50 180.50,383.80 212.00,383.80 212.00,391.30" fill="none" stroke="#000" stroke-width="1.1"/>
<circle cx="196.30" cy="378.30" r="1.1" fill="#000"/>
<polyline points="241.80,402.50 241.80,383.80 272.50,383.80 272.50,397.00" fill="none" stroke="#000" stroke-width="1.1"/>
<circle cx="256.80" cy="378.30" r="1.1" fill="#000"/>
<polyline points="301.30,413.80 301.30,405.50 333.00,405.50 333.00,411.30" fill="none" stroke="#000" stroke-width="1.1"/>
<text x="317.00" y="403.21" font-size="7.6" text-anchor="middle">n.s.</text>
<rect x="281.30" y="368.80" width="10.00" height="4.50" fill="#2e4b7e"/>
<rect x="281.30" y="378.00" width="10.00" height="4.50" fill="#6aaa45"/>
<rect x="281.30" y="388.30" width="10.00" height="4.70" fill="#a8002a"/>
<text x="294.30" y="374.02" font-size="8.2" textLength="20.80" lengthAdjust="spacingAndGlyphs">mRNP</text>
<text x="294.30" y="383.42" font-size="8.2" textLength="12.80" lengthAdjust="spacingAndGlyphs">80S</text>
<text x="294.30" y="393.62" font-size="8.2" textLength="48.30" lengthAdjust="spacingAndGlyphs">Polyribosomes</text>
<text transform="translate(11.40,435.00) rotate(-90)" x="0" y="3.10" font-size="9.0" text-anchor="middle" textLength="65.00" lengthAdjust="spacingAndGlyphs">Percentage of total</text>
<line x1="425.60" y1="393.30" x2="425.60" y2="483.90" stroke="#000" stroke-width="1.35"/>
<line x1="425.10" y1="483.40" x2="512.70" y2="483.40" stroke="#000" stroke-width="1.35"/>
<line x1="422.80" y1="483.40" x2="425.60" y2="483.40" stroke="#000" stroke-width="1"/>
<text x="419.60" y="486.29" font-size="8.4" text-anchor="end">0</text>
<line x1="422.80" y1="467.54" x2="425.60" y2="467.54" stroke="#000" stroke-width="1"/>
<text x="419.60" y="470.43" font-size="8.4" text-anchor="end">0.2</text>
<line x1="422.80" y1="451.68" x2="425.60" y2="451.68" stroke="#000" stroke-width="1"/>
<text x="419.60" y="454.57" font-size="8.4" text-anchor="end">0.4</text>
<line x1="422.80" y1="435.82" x2="425.60" y2="435.82" stroke="#000" stroke-width="1"/>
<text x="419.60" y="438.71" font-size="8.4" text-anchor="end">0.6</text>
<line x1="422.80" y1="419.96" x2="425.60" y2="419.96" stroke="#000" stroke-width="1"/>
<text x="419.60" y="422.85" font-size="8.4" text-anchor="end">0.8</text>
<line x1="422.80" y1="404.10" x2="425.60" y2="404.10" stroke="#000" stroke-width="1"/>
<text x="419.60" y="406.99" font-size="8.4" text-anchor="end">1</text>
<line x1="440.60" y1="404.10" x2="440.60" y2="402.67" stroke="#000" stroke-width="1"/>
<line x1="437.10" y1="402.67" x2="444.10" y2="402.67" stroke="#000" stroke-width="1"/>
<rect x="431.55" y="404.55" width="18.10" height="78.85" fill="#2e4b7e" stroke="#1d3360" stroke-width="0.9"/>
<line x1="440.60" y1="483.40" x2="440.60" y2="485.90" stroke="#000" stroke-width="1"/>
<text transform="translate(441.00,490.30) rotate(-45)" x="0" y="2.65" font-size="7.7" text-anchor="end">Control</text>
<line x1="469.40" y1="417.58" x2="469.40" y2="414.81" stroke="#000" stroke-width="1"/>
<line x1="465.90" y1="414.81" x2="472.90" y2="414.81" stroke="#000" stroke-width="1"/>
<rect x="460.35" y="418.03" width="18.10" height="65.37" fill="#a8002a" stroke="#85001f" stroke-width="0.9"/>
<line x1="469.40" y1="483.40" x2="469.40" y2="485.90" stroke="#000" stroke-width="1"/>
<text transform="translate(469.80,490.30) rotate(-45)" x="0" y="2.65" font-size="7.7" text-anchor="end">shRNA1</text>
<line x1="498.25" y1="415.20" x2="498.25" y2="412.43" stroke="#000" stroke-width="1"/>
<line x1="494.75" y1="412.43" x2="501.75" y2="412.43" stroke="#000" stroke-width="1"/>
<rect x="489.15" y="415.65" width="18.20" height="67.75" fill="#6aaa45" stroke="#4f8a32" stroke-width="0.9"/>
<line x1="498.25" y1="483.40" x2="498.25" y2="485.90" stroke="#000" stroke-width="1"/>
<text transform="translate(498.65,490.30) rotate(-45)" x="0" y="2.65" font-size="7.7" text-anchor="end">shRNA2</text>
<line x1="440.60" y1="384.30" x2="498.80" y2="384.30" stroke="#000" stroke-width="1.3"/>
<line x1="440.60" y1="394.50" x2="470.00" y2="394.50" stroke="#000" stroke-width="1.3"/>
<circle cx="469.40" cy="378.80" r="1.1" fill="#000"/>
<circle cx="454.90" cy="389.30" r="1.1" fill="#000"/>
<text transform="translate(399.50,438.50) rotate(-90)" x="0" y="2.96" font-size="8.6" text-anchor="middle" textLength="87.50" lengthAdjust="spacingAndGlyphs">Relative translation rate</text>
</svg>
<div id="frame"></div>
</div></body></html>
